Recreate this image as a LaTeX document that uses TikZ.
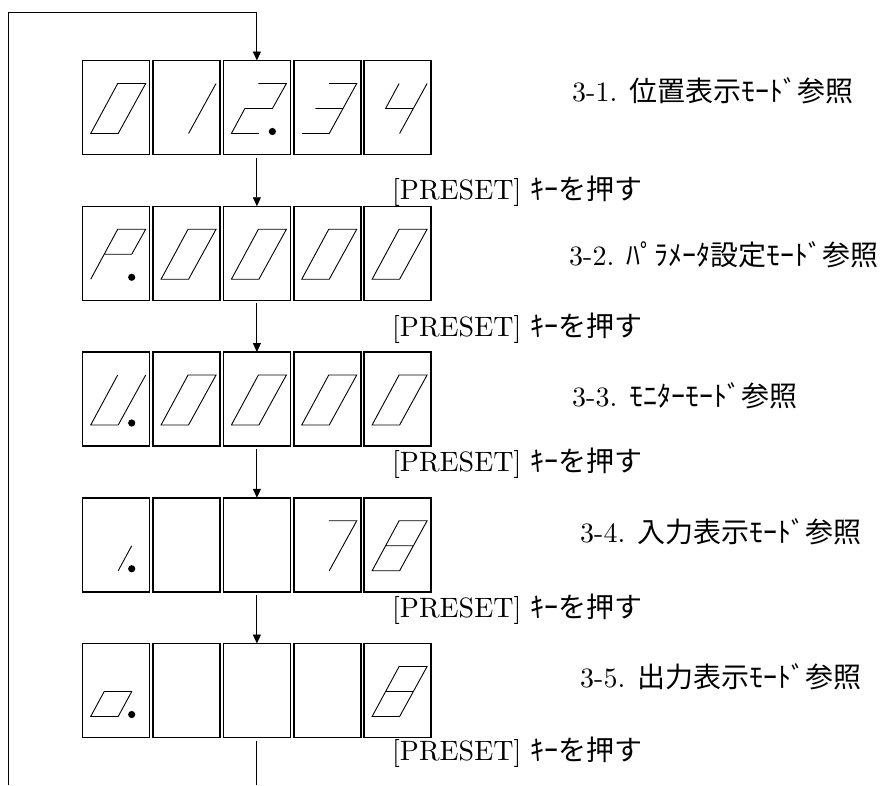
\documentclass[tikz,border=0pt]{standalone}
\usepackage{fontspec}
\setmainfont{lmroman10-regular}[Extension=.otf]
\newfontfamily\jp[Scale=1.0]{Noto Sans CJK JP}
\usetikzlibrary{arrows.meta}
\tikzset{
  digitbox/.style={draw, line width=1.5pt, minimum width=67pt, minimum height=94pt,
    anchor=north west, inner sep=0pt, outer sep=0pt},
  segline/.style={line width=0.9pt, line join=miter},
  conn/.style={line width=0.9pt},
  arr/.style={-{Triangle[length=9pt,width=8pt]}},
  lbl/.style={anchor=base west, inner sep=0pt, font=\fontsize{28}{32}\selectfont},
}
\newcommand\dpath[2]{\draw[segline,shift={(#1.north west)}] #2;}
\newcommand\segdot[1]{\fill[shift={(#1.north west)}] (49,71) circle[radius=3.6pt];}
\begin{document}
\begin{tikzpicture}[x=1pt,y=-1pt]
\useasboundingbox (0,0) rectangle (888,785);
% boxes
\foreach \r in {1,...,5}{
  \foreach \c in {1,...,5}{
    \node[digitbox] (r\r-\c) at ({82.7+(\c-1)*70.35},{60.5+(\r-1)*145.75}) {};
  }
}
% row 1: 0 1 2. 3 4
\dpath{r1-1}{(35,23)--(63,23)--(35.5,73)--(8,73)--cycle}
\dpath{r1-2}{(63,23)--(35.5,73)}
\dpath{r1-3}{(35,23)--(63,23)--(49,48)--(21.5,48)--(8,73)--(35.5,73)}
\segdot{r1-3}
\dpath{r1-4}{(35,23)--(63,23)--(35.5,73)--(8,73) (21.5,48)--(49,48)}
\dpath{r1-5}{(35,23)--(21.5,48)--(49,48) (63,23)--(35.5,73)}
% row 2: P. 0 0 0 0
\dpath{r2-1}{(8,73)--(35,23)--(63,23)--(49,48)--(21.5,48)}
\segdot{r2-1}
\foreach \c in {2,...,5}{\dpath{r2-\c}{(35,23)--(63,23)--(35.5,73)--(8,73)--cycle}}
% row 3: U. 0 0 0 0
\dpath{r3-1}{(35,23)--(8,73)--(35.5,73)--(63,23)}
\segdot{r3-1}
\foreach \c in {2,...,5}{\dpath{r3-\c}{(35,23)--(63,23)--(35.5,73)--(8,73)--cycle}}
% row 4: 1. _ _ 7 8
\dpath{r4-1}{(49,48)--(35.5,73)}
\segdot{r4-1}
\dpath{r4-4}{(35,23)--(63,23)--(35.5,73)}
\dpath{r4-5}{(35,23)--(63,23)--(35.5,73)--(8,73)--cycle (21.5,48)--(49,48)}
% row 5: o. _ _ _ 8
\dpath{r5-1}{(21.5,48)--(49,48)--(35.5,73)--(8,73)--cycle}
\segdot{r5-1}
\dpath{r5-5}{(35,23)--(63,23)--(35.5,73)--(8,73)--cycle (21.5,48)--(49,48)}
% connectors
\coordinate (lb) at (8,785);
\coordinate (lt) at (8,12);
\draw[conn,arr] (lb) -- (lt) -- (lt -| r1-3.north) -- (r1-3.north);
\draw[conn,arr] ([yshift=-3pt]r1-3.south) -- (r2-3.north);
\draw[conn,arr] ([yshift=-3pt]r2-3.south) -- (r3-3.north);
\draw[conn,arr] ([yshift=-3pt]r3-3.south) -- (r4-3.north);
\draw[conn,arr] ([yshift=-3pt]r4-3.south) -- (r5-3.north);
\draw[conn] ([yshift=-3pt]r5-3.south) -- (r5-3.south |- lb);
% labels
\node[lbl] (m1) at (572,101.5) {3-1. {\jp 位置表示ﾓｰﾄﾞ参照}};
\node[lbl] (m2) at (569,265.5) {3-2. {\jp ﾊﾟﾗﾒｰﾀ設定ﾓｰﾄﾞ参照}};
\node[lbl] (m3) at (572,406.5) {3-3. {\jp ﾓﾆﾀｰﾓｰﾄﾞ参照}};
\node[lbl] (m4) at (580,542.5) {3-4. {\jp 入力表示ﾓｰﾄﾞ参照}};
\node[lbl] (m5) at (580,687.5) {3-5. {\jp 出力表示ﾓｰﾄﾞ参照}};
\node[lbl] (p1) at (392,199) {[PRESET] {\jp ｷｰを押す}};
\node[lbl] (p2) at (392,336) {[PRESET] {\jp ｷｰを押す}};
\node[lbl] (p3) at (392,471) {[PRESET] {\jp ｷｰを押す}};
\node[lbl] (p4) at (392,617) {[PRESET] {\jp ｷｰを押す}};
\node[lbl] (p5) at (392,760) {[PRESET] {\jp ｷｰを押す}};
\end{tikzpicture}
\end{document}
